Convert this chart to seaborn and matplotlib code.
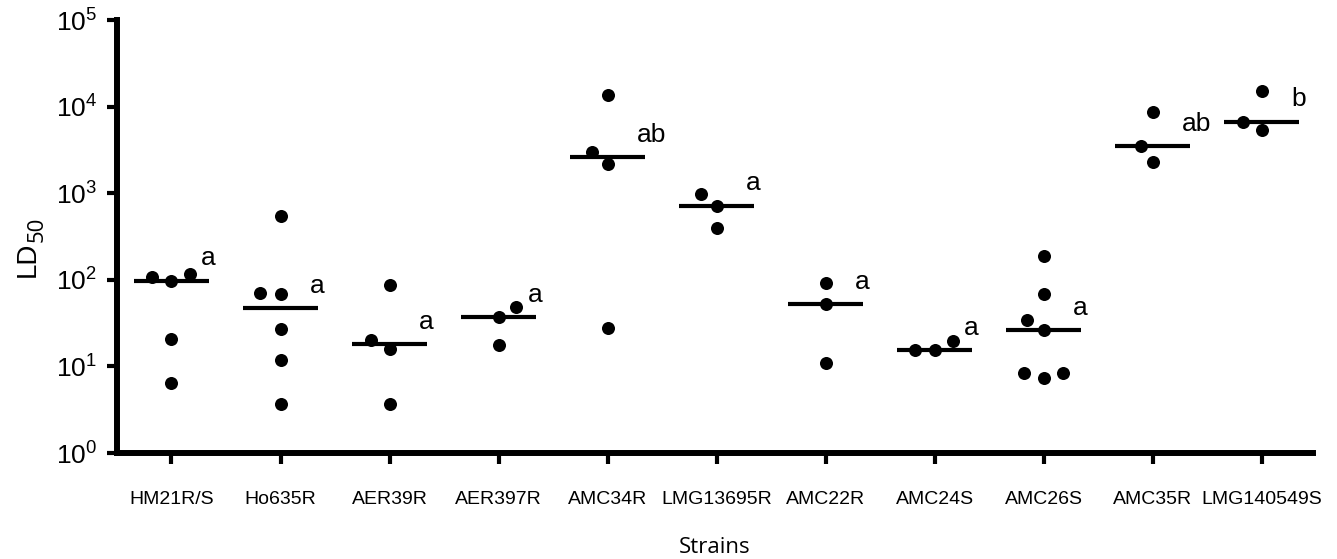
import numpy as np
import pandas as pd
import matplotlib
matplotlib.use("Agg")
import matplotlib.pyplot as plt
from matplotlib.ticker import NullLocator
import seaborn as sns

# === Data ===
strains = ["HM21R/S", "Ho635R", "AER39R", "AER397R", "AMC34R", "LMG13695R",
           "AMC22R", "AMC24S", "AMC26S", "AMC35R", "LMG140549S"]

hm21rs = [117, 107, 98, 21, 6.5]
ho635r = [540, 71, 68, 27, 12, 3.7]
aer39r = [87, 20, 16, 3.7]
aer397r = [48, 37, 17.5]
amc34r = [13500, 3000, 2200, 28]
lmg13695r = [980, 720, 400]
amc22r = [92, 52, 11]
amc24s = [19.5, 15.5, 15.5]
amc26s = [190, 68, 34, 26, 8.3, 8.3, 7.3]
amc35r = [8700, 3500, 2300]
lmg140549s = [15000, 6700, 5400]

letters = ["a", "a", "a", "a", "ab", "a", "a", "a", "a", "ab", "b"]

values = [hm21rs, ho635r, aer39r, aer397r, amc34r, lmg13695r,
          amc22r, amc24s, amc26s, amc35r, lmg140549s]

df = pd.DataFrame({
    "strain": np.repeat(strains, [len(v) for v in values]),
    "ld50": np.concatenate(values),
})
medians = df.groupby("strain")["ld50"].median().reindex(strains)

# === Style ===
sns.set_style("ticks")
plt.rcParams["font.family"] = ["Liberation Sans", "DejaVu Sans"]
plt.rcParams["mathtext.fontset"] = "custom"
plt.rcParams["mathtext.rm"] = "Liberation Sans"
for key in ["text.color", "axes.labelcolor", "xtick.color", "ytick.color"]:
    plt.rcParams[key] = "black"

fig = plt.figure(figsize=(13.37, 5.59), dpi=100)
ax = fig.add_axes([0.0875, 0.1896, 0.8945, 0.7746])
ax.set_yscale("log")
ax.set_ylim(1, 1e5)

# dots (white edge only widens the swarm spacing)
sns.swarmplot(data=df, x="strain", y="ld50", order=strains, ax=ax,
              color="black", size=11.6, edgecolor="white", linewidth=2.2,
              zorder=2)

# median bars + significance letters
for i, s in enumerate(strains):
    ax.hlines(medians[s], i - 0.345, i + 0.345, color="black", lw=3, zorder=3)
    ax.annotate(letters[i], xy=(i + 0.27, medians[s]), xytext=(0, 11),
                textcoords="offset points", ha="left", va="baseline",
                fontsize=19, color="black")

ax.set_xlim(-0.5, 10.47)
ax.set_ylim(1, 1e5)
ax.yaxis.set_minor_locator(NullLocator())
sns.despine(ax=ax)
for side in ["left", "bottom"]:
    ax.spines[side].set_linewidth(4.3)
    ax.spines[side].set_color("black")

ax.tick_params(axis="x", length=8, width=3, color="black", pad=19,
               labelsize=14)
ax.tick_params(axis="y", length=7.5, width=3, color="black", pad=7,
               labelsize=19)

# y label: "LD" with a large subscript "50"
ax.set_ylabel("LD", fontsize=20)
ax.yaxis.set_label_coords(-0.064, 0.447)
ax.annotate("50", xy=(1, 1), xycoords=ax.yaxis.label, xytext=(5.5, 0),
            textcoords="offset points", rotation=90, ha="right", va="bottom",
            fontsize=16, family=["Open Sans", "DejaVu Sans"])

ax.set_xlabel("Strains", fontsize=16, family=["Open Sans", "DejaVu Sans"])
ax.xaxis.set_label_coords(0.5, -0.195)

plt.savefig("out.png", dpi=100)
